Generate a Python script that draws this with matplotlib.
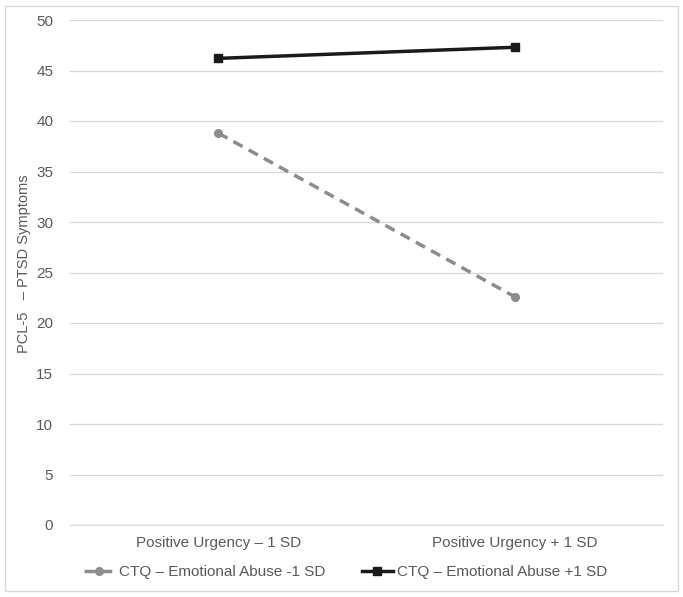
import matplotlib
matplotlib.use("Agg")
import matplotlib.pyplot as plt
from matplotlib.patches import Rectangle

categories = ["Positive Urgency – 1 SD", "Positive Urgency + 1 SD"]
low_abuse = [38.8, 22.6]
high_abuse = [46.2, 47.3]
series_labels = ["CTQ – Emotional Abuse -1 SD", "CTQ – Emotional Abuse +1 SD"]
yticks = list(range(0, 51, 5))

txt = "#595959"
grid = "#d9d9d9"
plt.rcParams["font.family"] = ["Liberation Sans", "DejaVu Sans"]

fig = plt.figure(figsize=(6.83, 5.97), dpi=100)
ax = fig.add_axes([70 / 683, 1 - 525 / 597, 593 / 683, 505 / 597])

x = [0, 1]
ax.plot(x, low_abuse, color="#8c8c8c", lw=2.5, ls=(0, (3, 2)),
        marker="o", ms=5.5, label=series_labels[0])
ax.plot(x, high_abuse, color="#1a1a1a", lw=2.5,
        marker="s", ms=6, label=series_labels[1])

ax.set_xlim(-0.5, 1.5)
ax.set_ylim(0, 50)
ax.set_yticks(yticks)
ax.set_xticks(x)
ax.set_xticklabels(categories)
ax.grid(axis="y", color=grid, lw=1)
ax.set_axisbelow(True)
for s in ["top", "right", "left"]:
    ax.spines[s].set_visible(False)
ax.spines["bottom"].set_color(grid)
ax.tick_params(length=0, colors=txt, labelsize=11)
ax.tick_params(axis="y", pad=12)
ax.tick_params(axis="x", pad=8)
ax.set_ylabel("PCL-5   – PTSD Symptoms", color=txt, fontsize=10.5)
ax.yaxis.set_label_coords(-0.066, 0.517)

ax.legend(loc="center", bbox_to_anchor=(0.465, -0.093), ncol=2,
          frameon=False, fontsize=11, labelcolor=txt, handlelength=2.0,
          handletextpad=0.3, columnspacing=2.4)

fig.patches.append(Rectangle((5 / 683, 6 / 597), 673 / 683, 585 / 597,
                             transform=fig.transFigure, fill=False,
                             edgecolor=grid, lw=1))

fig.savefig("out.png", dpi=100)
